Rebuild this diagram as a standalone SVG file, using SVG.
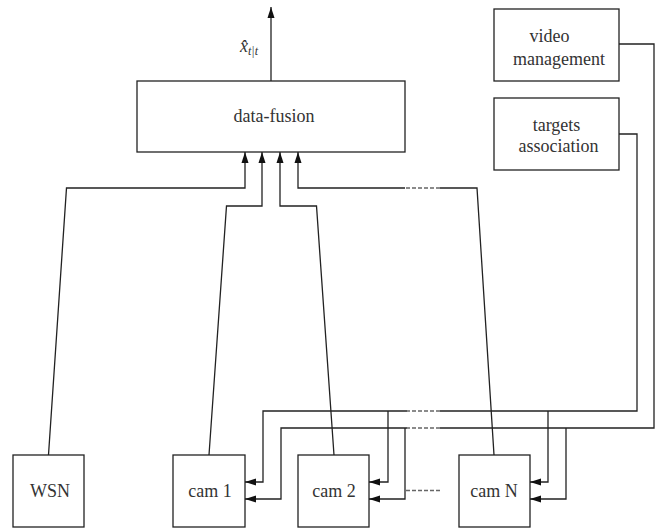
<svg xmlns="http://www.w3.org/2000/svg" width="664" height="531" viewBox="0 0 664 531">
<style>
  .box { fill: #fff; stroke: #222; stroke-width: 1.3; }
  .lbl { font-family: 'Liberation Serif', 'Times New Roman', 'DejaVu Serif', serif; font-size: 18px; fill: #333; text-anchor: middle; }
  .w { fill: none; stroke: #222; stroke-width: 1.3; }
  .d { fill: none; stroke: #666; stroke-width: 1.3; stroke-dasharray: 4 2; }
  .math { font-family: 'Liberation Serif', 'Times New Roman', 'DejaVu Serif', serif; font-style: italic; fill: #333; }
</style>
<defs>
  <marker id="ah" markerUnits="userSpaceOnUse" markerWidth="12" markerHeight="8" refX="11" refY="4" orient="auto">
    <path d="M0,0.5 L11,4 L0,7.5 Z" fill="#111"/>
  </marker>
</defs>

<g id="data-fusion">
  <rect class="box" x="137" y="81" width="268" height="71"/>
  <text class="lbl" x="274" y="122">data-fusion</text>
</g>
<g id="video-management">
  <rect class="box" x="494" y="9" width="125" height="72"/>
  <text class="lbl" x="549.5" y="42">video</text>
  <text class="lbl" x="559" y="65">management</text>
</g>
<g id="targets-association">
  <rect class="box" x="494" y="98" width="125" height="72"/>
  <text class="lbl" x="556.5" y="131">targets</text>
  <text class="lbl" x="558.5" y="152">association</text>
</g>
<g id="wsn">
  <rect class="box" x="13" y="455" width="71" height="72"/>
  <text class="lbl" x="50" y="497">WSN</text>
</g>
<g id="cam1">
  <rect class="box" x="173" y="455" width="72" height="72"/>
  <text class="lbl" x="210" y="497">cam 1</text>
</g>
<g id="cam2">
  <rect class="box" x="298" y="455" width="71" height="72"/>
  <text class="lbl" x="334" y="497">cam 2</text>
</g>
<g id="camN">
  <rect class="box" x="459" y="455" width="71" height="72"/>
  <text class="lbl" x="494" y="497">cam N</text>
</g>

<g id="connectors">
  <!-- output -->
  <path class="w" d="M271,81 V7" marker-end="url(#ah)"/>
  <text class="math" x="240" y="52" font-size="18">x̂<tspan dy="2.5" font-size="12">t|t</tspan></text>

  <!-- inputs to data-fusion -->
  <path class="w" d="M48.5,455 L66.5,188 H245 V152" marker-end="url(#ah)"/>
  <path class="w" d="M209,455 L226.5,206 H262 V152" marker-end="url(#ah)"/>
  <path class="w" d="M334,455 L316.5,206 H280 V152" marker-end="url(#ah)"/>
  <path class="w" d="M494,455 L477,188 H440"/>
  <path class="d" d="M440,188 H405"/>
  <path class="w" d="M405,188 H298 V152" marker-end="url(#ah)"/>

  <!-- targets association bus -->
  <path class="w" d="M619,134 H637 V411 H440"/>
  <path class="d" d="M440,411 H407"/>
  <path class="w" d="M407,411 H263 V482 H245" marker-end="url(#ah)"/>
  <path class="w" d="M388,411 V482 H369" marker-end="url(#ah)"/>
  <path class="w" d="M548,411 V482 H530" marker-end="url(#ah)"/>

  <!-- video management bus -->
  <path class="w" d="M619,44 H654 V428 H440"/>
  <path class="d" d="M440,428 H407"/>
  <path class="w" d="M407,428 H281 V499 H245" marker-end="url(#ah)"/>
  <path class="w" d="M405,428 V499 H369" marker-end="url(#ah)"/>
  <path class="w" d="M566,428 V499 H530" marker-end="url(#ah)"/>
  <path class="d" d="M406,490.5 H441"/>
</g>
</svg>
